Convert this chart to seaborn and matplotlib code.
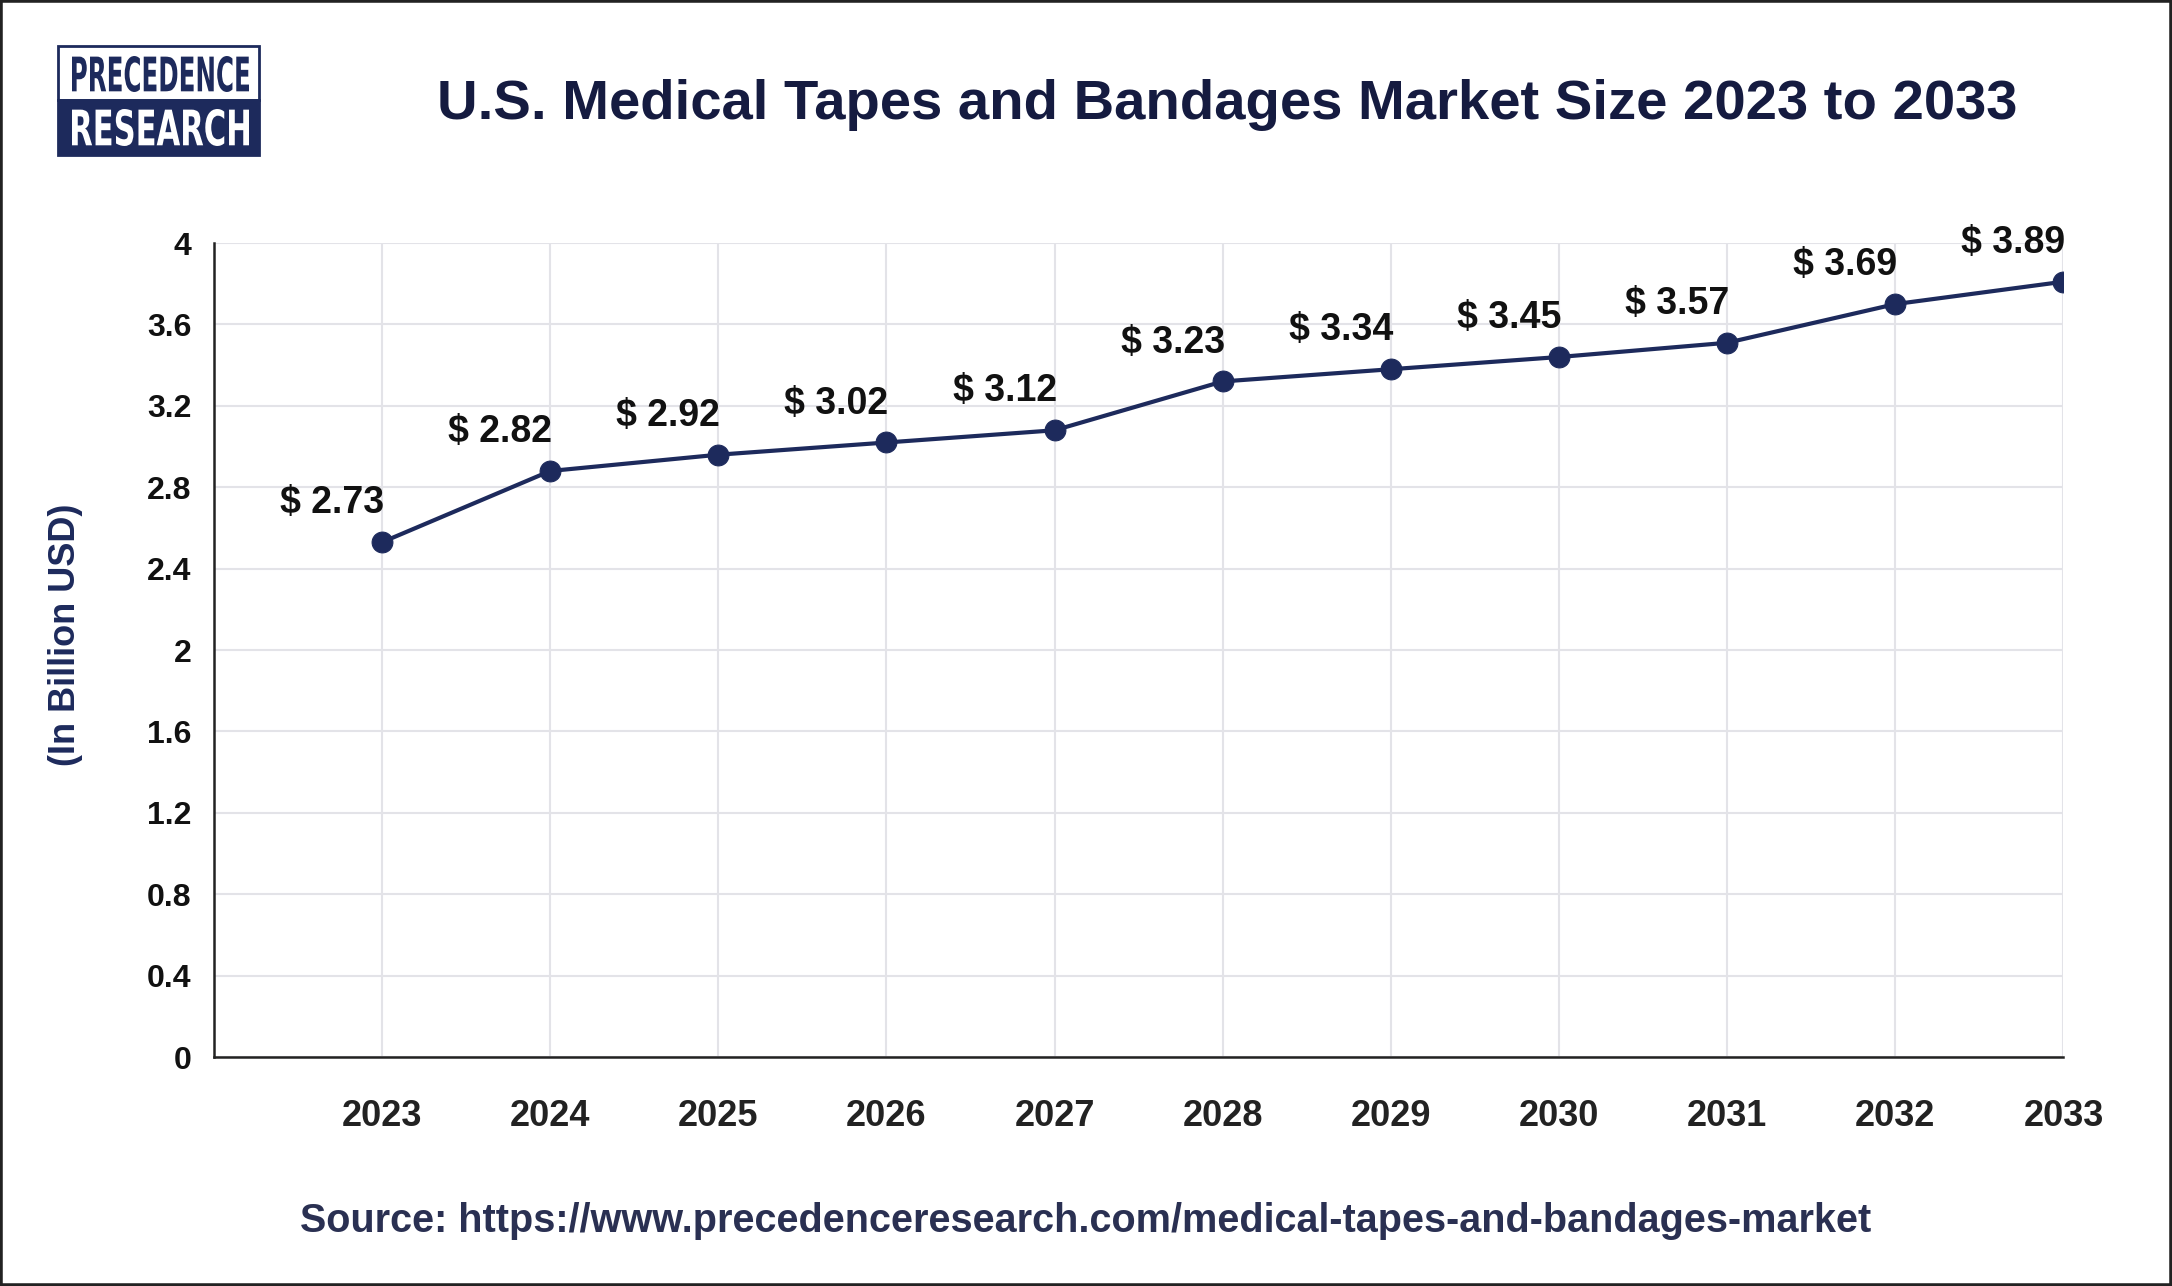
import pandas as pd
import matplotlib.pyplot as plt
import seaborn as sns
from matplotlib.patches import Rectangle, PathPatch
from matplotlib.textpath import TextPath
from matplotlib.font_manager import FontProperties
from matplotlib.transforms import Affine2D, IdentityTransform

# --- data ---
years = [2023, 2024, 2025, 2026, 2027, 2028, 2029, 2030, 2031, 2032, 2033]
# value printed above each point
market_size = [2.73, 2.82, 2.92, 3.02, 3.12, 3.23, 3.34, 3.45, 3.57, 3.69, 3.89]
# where the points are actually drawn on the y scale
plotted_size = [2.53, 2.88, 2.96, 3.02, 3.08, 3.32, 3.38, 3.44, 3.51, 3.70, 3.81]
y_ticks = [0, 0.4, 0.8, 1.2, 1.6, 2, 2.4, 2.8, 3.2, 3.6, 4]
y_tick_labels = ['0', '0.4', '0.8', '1.2', '1.6', '2', '2.4', '2.8', '3.2', '3.6', '4']

title = 'U.S. Medical Tapes and Bandages Market Size 2023 to 2033'
source = 'Source: https://www.precedenceresearch.com/medical-tapes-and-bandages-market'

navy = '#1d2a5c'
W, H = 2172, 1286

df = pd.DataFrame({'year': years, 'size': plotted_size, 'label': market_size})

sns.set_style('white')
plt.rcParams['font.family'] = ['Liberation Sans', 'DejaVu Sans']

fig = plt.figure(figsize=(W / 100, H / 100), dpi=100)
fig.patch.set_facecolor('white')
ax = fig.add_axes([0.0985, 0.178, 0.8515, 0.633])

sns.lineplot(data=df, x='year', y='size', ax=ax, color=navy, linewidth=3,
             marker='o', markersize=15, markeredgecolor=navy, markerfacecolor=navy)

for _, row in df.iterrows():
    ax.annotate(f"$ {row['label']:.2f}", (row['year'], row['size']),
                xytext=(-36, 28), textcoords='offset points',
                ha='center', va='center', fontsize=27, fontweight='bold', color='#111111')

ax.set_xlim(2022, 2033)
ax.set_ylim(0, 4)
ax.set_xticks(years)
ax.set_xticklabels([str(y) for y in years], fontsize=26, fontweight='bold', color='#222222')
ax.set_yticks(y_ticks)
ax.set_yticklabels(y_tick_labels, fontsize=23, fontweight='bold', color='#111111')
ax.tick_params(axis='x', length=0, pad=30)
ax.tick_params(axis='y', length=0, pad=16)
ax.grid(True, color='#e3e3e8', linewidth=1.5)
ax.set_axisbelow(True)
for side in ['top', 'right']:
    ax.spines[side].set_visible(False)
for side in ['left', 'bottom']:
    ax.spines[side].set_color('#222222')
    ax.spines[side].set_linewidth(1.8)
ax.set_xlabel('')
ax.set_ylabel('(In Billion USD)', fontsize=26, fontweight='bold', color=navy)
ax.yaxis.set_label_coords(-0.071, 0.519)

fig.text(0.565, 0.918, title, ha='center', va='center', fontsize=40.5,
         fontweight='bold', color='#151b40')
fig.text(0.5, 0.0506, source, ha='center', va='center', fontsize=28.5,
         fontweight='bold', color='#2a3052')

# logo (pixel coords, y measured from the top)
fig.patches.append(Rectangle((58 / W, 1 - 100 / H), 201 / W, 54 / H, transform=fig.transFigure,
                             facecolor='white', edgecolor=navy, linewidth=2))
fig.patches.append(Rectangle((58 / W, 1 - 155 / H), 201 / W, 55 / H, transform=fig.transFigure,
                             facecolor=navy, edgecolor=navy, linewidth=2))


def logo_word(word, x0, x1, y_top, y_bot, color):
    # squeeze the word into the box to mimic the condensed logo lettering
    tp = TextPath((0, 0), word, size=100, prop=FontProperties(family='DejaVu Sans', weight='bold'))
    ext = tp.get_extents()
    sx = (x1 - x0) / ext.width
    sy = (y_bot - y_top) / ext.height
    tr = Affine2D().translate(-ext.x0, -ext.y0).scale(sx, sy).translate(x0, H - y_bot)
    fig.patches.append(PathPatch(tr.transform_path(tp), facecolor=color, edgecolor='none',
                                 transform=IdentityTransform()))


logo_word('PRECEDENCE', 72, 249, 56, 92, navy)
logo_word('RESEARCH', 72, 249, 109, 146, 'white')

# frame around the whole image
fig.patches.append(Rectangle((0, 0), 1, 1, transform=fig.transFigure, fill=False,
                             edgecolor='#222222', linewidth=4))

fig.savefig('out.png', dpi=100)
